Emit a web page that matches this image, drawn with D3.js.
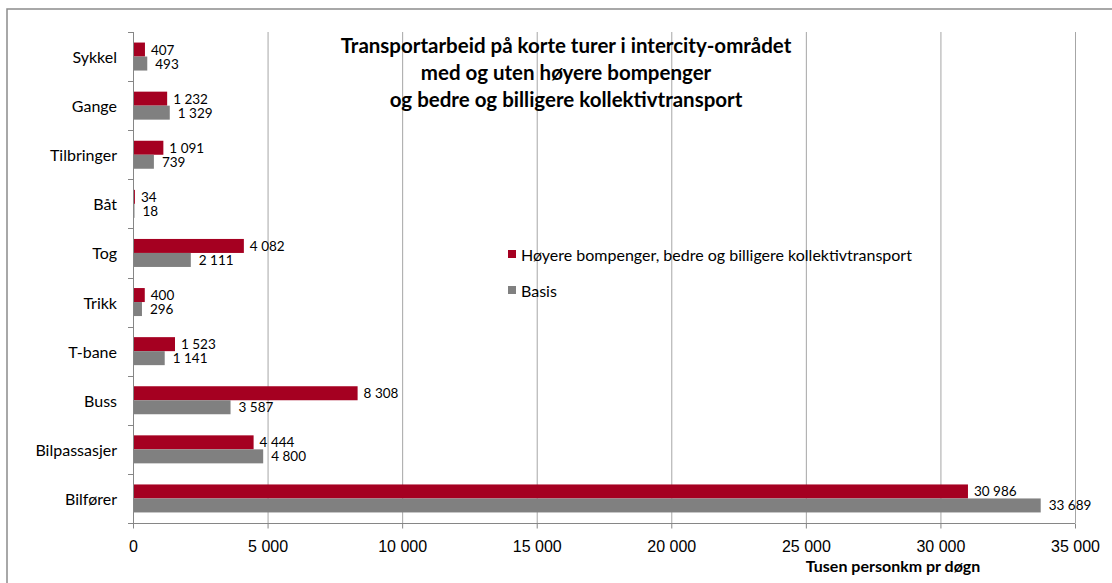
<!DOCTYPE html>
<html lang="no">
<head>
<meta charset="UTF-8">
<script src="https://cdn.jsdelivr.net/npm/d3@7"></script>
<style>
  body { margin: 0; background: #fff; }
  svg { font-family: Lato, "Open Sans", sans-serif; }
  .grid line { stroke: #a6a6a6; }
  .axis path, .axis line { stroke: #868686; }
</style>
</head>
<body>
<script>
// data
var categories = ["Sykkel", "Gange", "Tilbringer", "Båt", "Tog", "Trikk", "T-bane", "Buss", "Bilpassasjer", "Bilfører"];
var hoyere = [407, 1232, 1091, 34, 4082, 400, 1523, 8308, 4444, 30986];
var basis = [493, 1329, 739, 18, 2111, 296, 1141, 3587, 4800, 33689];
var seriesNames = ["Høyere bompenger, bedre og billigere kollektivtransport", "Basis"];
var xTicks = [0, 5000, 10000, 15000, 20000, 25000, 30000, 35000];
var titleLines = ["Transportarbeid på korte turer i intercity-området", "med og uten høyere bompenger", "og bedre og billigere kollektivtransport"];
var xTitle = "Tusen personkm pr døgn";

var W = 1112, H = 583;
var colors = ["#a50021", "#808080"];
var fmt = d3.formatLocale({decimal: ",", thousands: "\u00a0", grouping: [3], currency: ["", ""]}).format(",");

var svg = d3.select("body").append("svg").attr("width", W).attr("height", H);

// outer frame
svg.append("rect").attr("x", 7).attr("y", 9).attr("width", W).attr("height", H)
  .attr("fill", "none").attr("stroke", "#8c8c8c").attr("stroke-width", 1.5);

var pLeft = 133, pRight = 1075, pTop = 32, pBottom = 523;
var x = d3.scaleLinear().domain([0, 35000]).range([pLeft, pRight]);
var y = d3.scaleBand().domain(categories).range([pTop, pBottom]);
var barH = 14;

// gridlines
svg.append("g").attr("class", "grid").selectAll("line")
  .data(xTicks.slice(1)).enter().append("line")
  .attr("x1", d => x(d) + 0.5).attr("x2", d => x(d) + 0.5)
  .attr("y1", pTop).attr("y2", pBottom);

// x axis
var xAxis = svg.append("g").attr("class", "axis")
  .attr("transform", "translate(0," + (pBottom + 0.5) + ")")
  .call(d3.axisBottom(x).tickValues(xTicks).tickFormat(fmt).tickSizeInner(5).tickSizeOuter(0));
xAxis.select(".domain").attr("d", "M" + pLeft + ",0H" + pRight);
xAxis.selectAll("text").attr("font-size", 16).attr("fill", "#000").attr("y", 13).attr("dy", "0.95em");

// y axis with boundary ticks
var yg = svg.append("g").attr("class", "axis");
yg.append("line").attr("x1", pLeft + 0.5).attr("x2", pLeft + 0.5).attr("y1", pTop).attr("y2", pBottom);
var bounds = categories.map(c => y(c)).concat([pBottom]);
yg.selectAll(".bt").data(bounds).enter().append("line")
  .attr("x1", pLeft - 5).attr("x2", pLeft + 0.5)
  .attr("y1", d => Math.round(d) + 0.5).attr("y2", d => Math.round(d) + 0.5);
yg.selectAll("text").data(categories).enter().append("text")
  .attr("x", 117).attr("y", d => y(d) + y.bandwidth() / 2)
  .attr("text-anchor", "end").attr("dominant-baseline", "central")
  .attr("font-size", 16).text(d => d);

// bars
var series = [hoyere, basis];
series.forEach(function (vals, s) {
  var g = svg.append("g");
  g.selectAll("rect").data(vals).enter().append("rect")
    .attr("x", pLeft + 1)
    .attr("y", (d, i) => y(categories[i]) + y.bandwidth() / 2 - barH + s * barH)
    .attr("width", d => x(d) - pLeft)
    .attr("height", barH)
    .attr("fill", colors[s]);
  g.selectAll("text").data(vals).enter().append("text")
    .attr("x", d => x(d) + 7 + s * 2)
    .attr("y", (d, i) => y(categories[i]) + y.bandwidth() / 2 - barH / 2 + s * barH)
    .attr("dominant-baseline", "central")
    .attr("font-size", 13.5).text(d => fmt(d));
});

// title
svg.append("text").attr("x", 566).attr("y", 47).attr("text-anchor", "middle")
  .attr("font-weight", "bold").attr("font-size", 20.5)
  .selectAll("tspan").data(titleLines).enter().append("tspan")
  .attr("x", 566).attr("dy", (d, i) => i ? 27 : 6).text(d => d);

// legend
var lg = svg.append("g").selectAll("g").data(seriesNames).enter().append("g")
  .attr("transform", (d, i) => "translate(508," + (254 + i * 36) + ")");
lg.append("rect").attr("x", 0).attr("y", -4).attr("width", 8).attr("height", 8)
  .attr("fill", (d, i) => colors[i]);
lg.append("text").attr("x", 13).attr("y", 0).attr("dominant-baseline", "central")
  .attr("font-size", 16).text(d => d);

// x title
svg.append("text").attr("x", 893).attr("y", 572).attr("text-anchor", "middle")
  .attr("font-weight", "bold").attr("font-size", 16).text(xTitle);
</script>
</body>
</html>
